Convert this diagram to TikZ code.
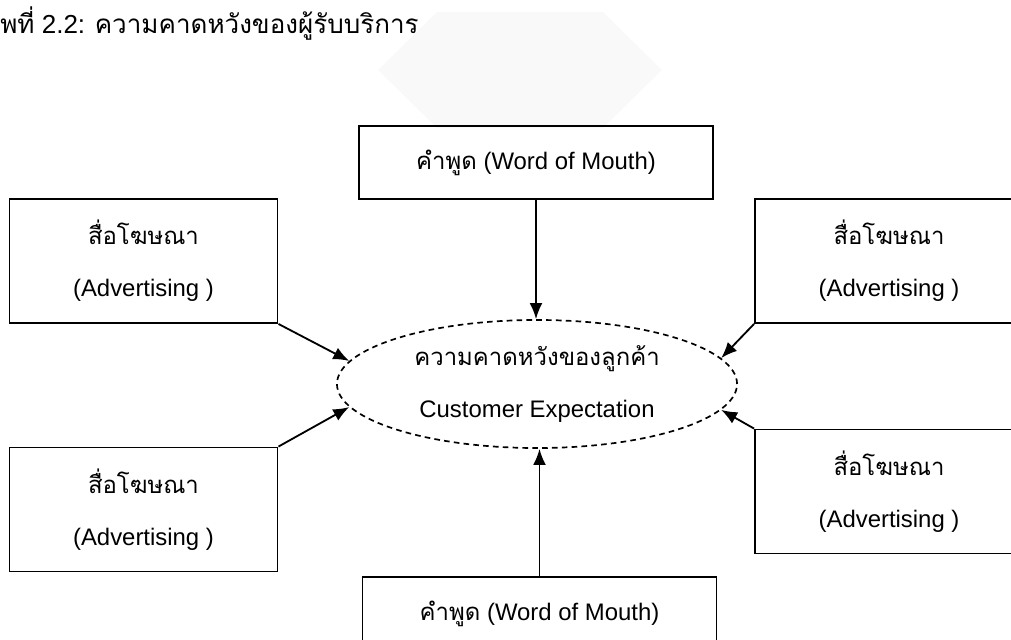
\documentclass[tikz,border=0pt]{standalone}
\usepackage{fontspec}
\setmainfont{Liberation Sans}
\newfontfamily\thaifont[Script=Thai]{Loma}
\usetikzlibrary{arrows.meta,shapes.geometric}

\tikzset{
  box/.style={draw=black, line width=1.3pt, align=center, inner sep=0pt,
    font=\fontsize{17}{37}\selectfont},
  adbox/.style={box, minimum width=6.7cm, minimum height=3.1cm},
  wombox/.style={box, minimum width=8.85cm, minimum height=1.825cm},
  expect/.style={ellipse, draw=black, line width=1.2pt, dash pattern=on 4pt off 3pt,
    minimum width=10cm, minimum height=3.2cm, inner sep=0pt, align=center,
    font=\fontsize{17}{37}\selectfont},
  arr/.style={-{Latex[length=4mm,width=3.2mm]}, line width=1.3pt},
}

\begin{document}
\begin{tikzpicture}[x=0.025cm, y=-0.025cm]
\useasboundingbox (0,0) rectangle (1011,639);
\fill [gray!5] (378,70) -- (437,12) -- (603,12) -- (662,70) -- (603,128) -- (437,128) -- cycle;

\node (title) at (0,33) [anchor=base west, inner sep=0pt, font=\fontsize{18.5}{20}\selectfont]
  {{\thaifont พที่} 2.2: {\thaifont ความคาดหวังของผู้รับบริการ}};

\node (wom1) at (536,162.5) [wombox] {{\thaifont คำพูด} (Word of Mouth)};
\node (adtl) at (143.5,261) [adbox] {{\thaifont สื่อโฆษณา}\\(Advertising )};
\node (adtr) at (889,261) [adbox] {{\thaifont สื่อโฆษณา}\\(Advertising )};
\node (exp) at (537,384) [expect] {{\thaifont ความคาดหวังของลูกค้า}\\Customer Expectation};
\node (adbl) at (143.5,509.5) [adbox] {{\thaifont สื่อโฆษณา}\\(Advertising )};
\node (adbr) at (889,491.5) [adbox] {{\thaifont สื่อโฆษณา}\\(Advertising )};
\node (wom2) at (539.5,613.5) [wombox] {{\thaifont คำพูด} (Word of Mouth)};

\draw [arr] (wom1.south) -- (wom1.south |- exp.north);
\draw [arr] (adtl.south east) -- (exp.173);
\draw [arr] (adtr.south west) -- (exp.8);
\draw [arr] (adbl.north east) -- (exp.187);
\draw [arr] (adbr.north west) -- (exp.-8);
\draw [arr] (wom2.north) -- (wom2.north |- exp.south);
\end{tikzpicture}
\end{document}
